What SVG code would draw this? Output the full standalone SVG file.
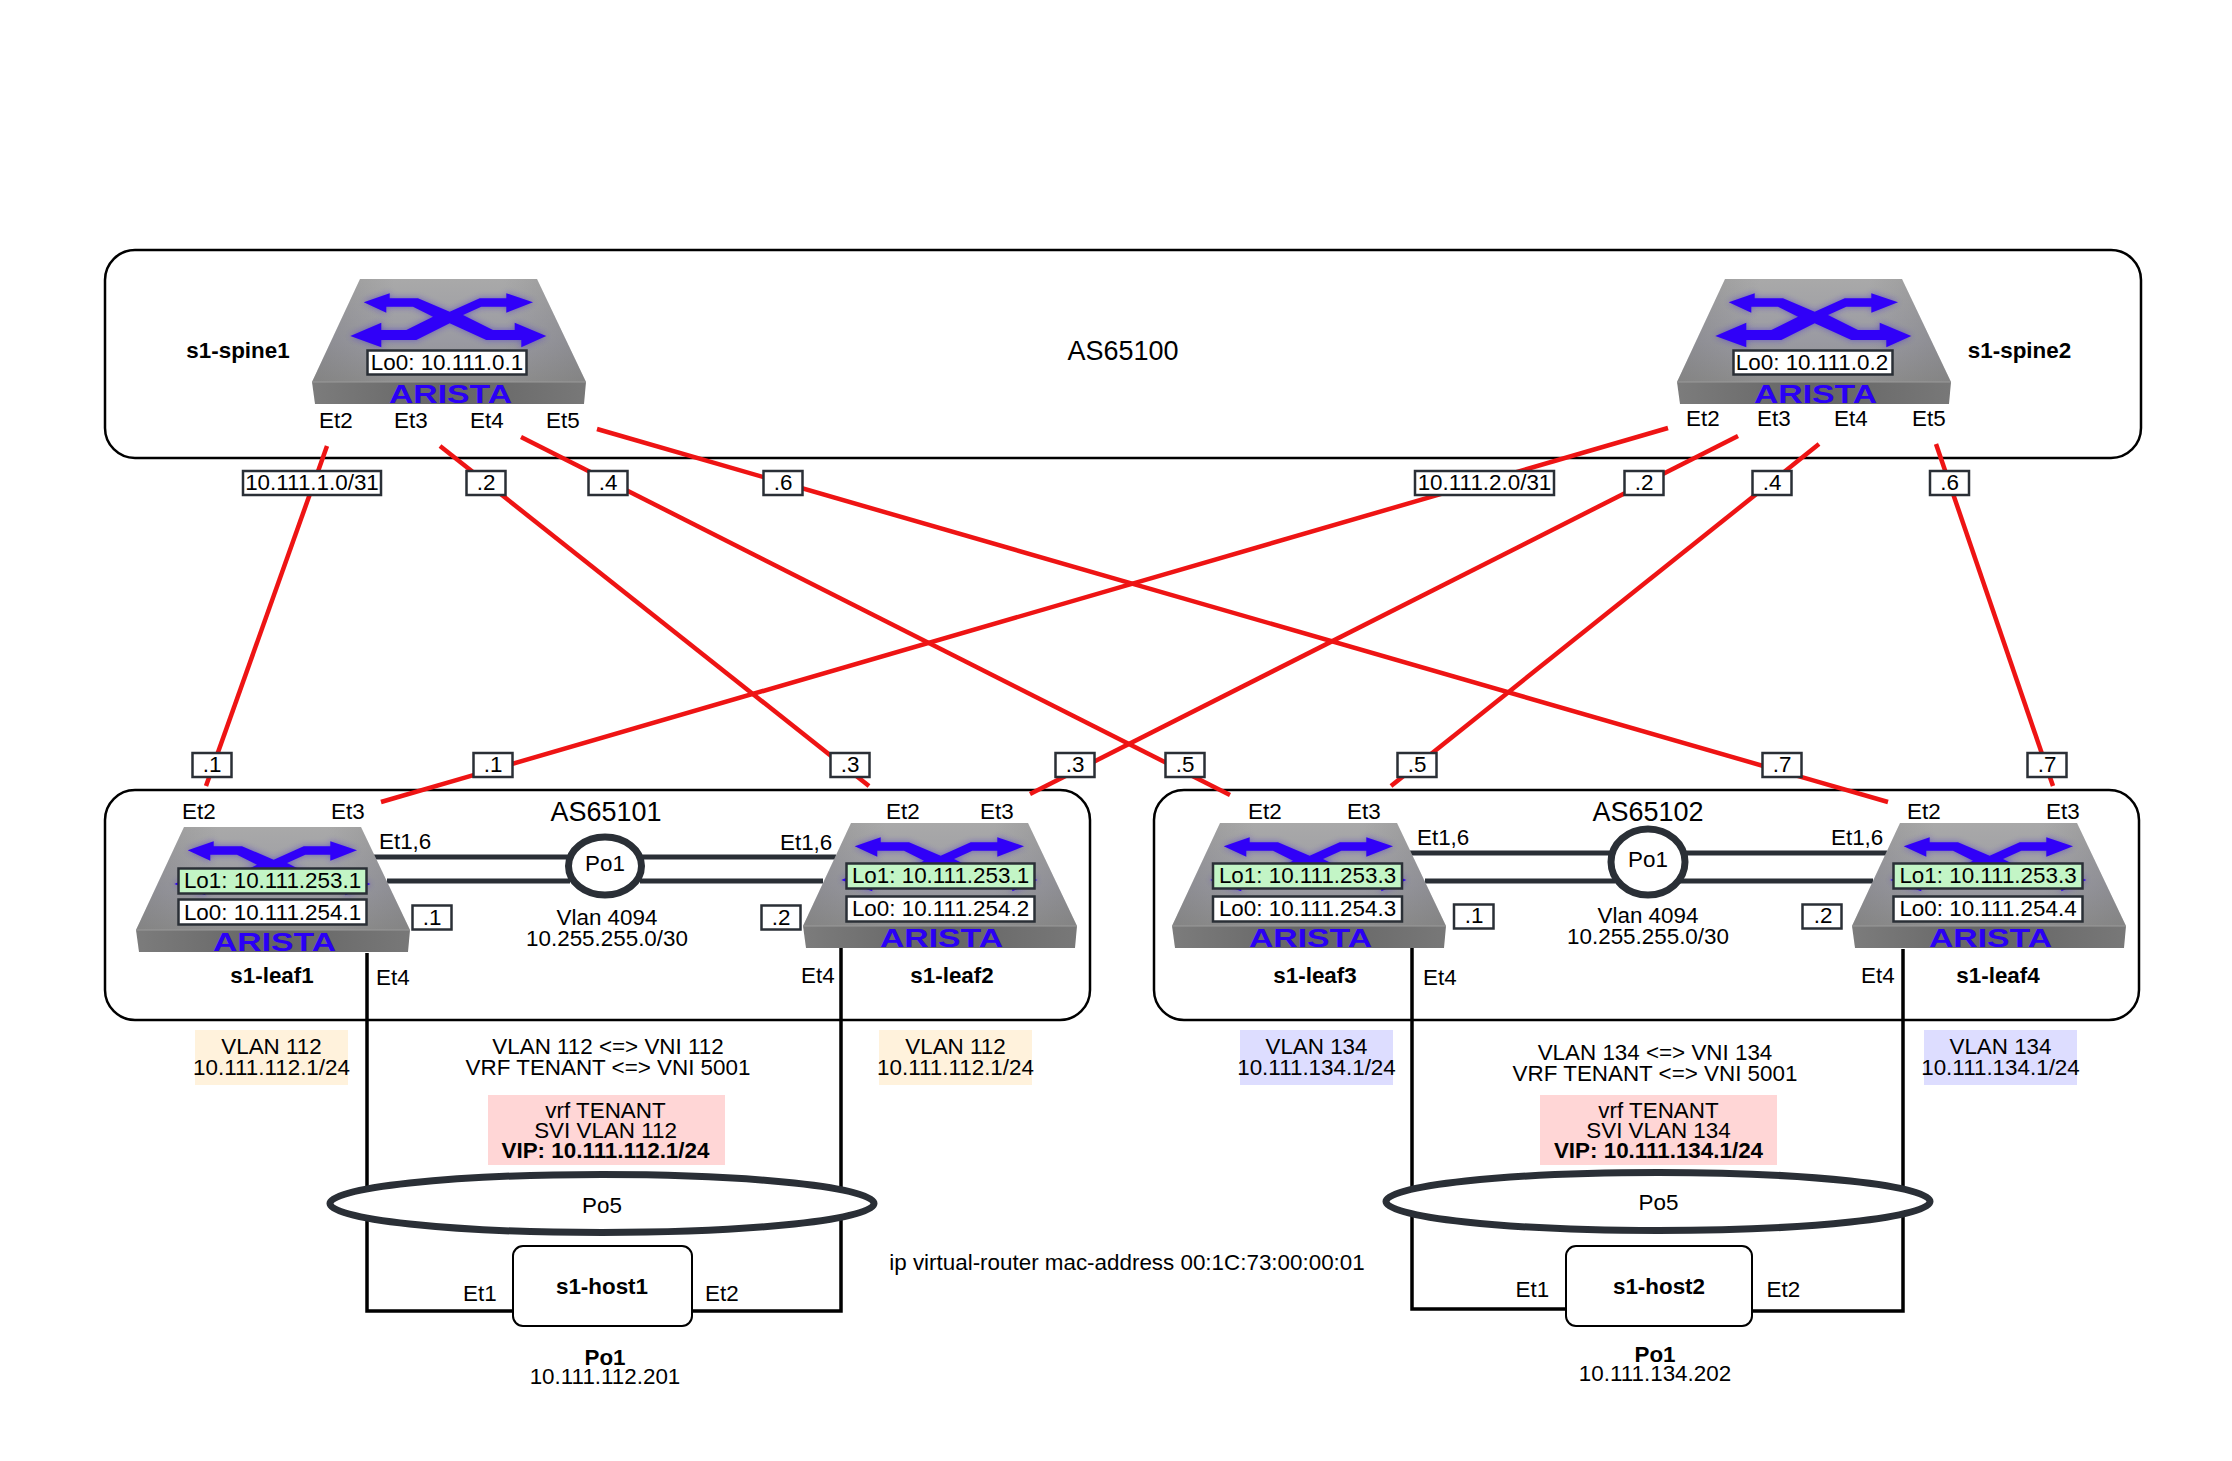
<svg xmlns="http://www.w3.org/2000/svg" width="2232" height="1461" viewBox="0 0 2232 1461">
<style>
text{font-family:"Liberation Sans",Arial,sans-serif;font-size:22.4px;fill:#000}
.m{text-anchor:middle}
.b{font-weight:bold}
.as{fill:none;stroke:#000;stroke-width:2.5}
.as-t{font-size:27px;text-anchor:middle}
.red{fill:none;stroke:#ee1414;stroke-width:4.5}
.blk{fill:none;stroke:#000;stroke-width:3.5}
.peer{fill:none;stroke:#2a2f36;stroke-width:5}
.po{fill:#fff;stroke:#2a2f36;stroke-width:7}
.box{fill:#fff;stroke:#2a2f36;stroke-width:2.5}
.lo1{fill:#c3f5c6;stroke:#2a2f36;stroke-width:2.5}
.host{fill:#fff;stroke:#000;stroke-width:2}
.logo{font-weight:bold;font-size:25px;fill:#2a00f5}
</style>
<defs>
<linearGradient id="top" x1="0" y1="0" x2="0" y2="1"><stop offset="0" stop-color="#a9a9a9"/><stop offset="0.6" stop-color="#9a9aa2"/><stop offset="1" stop-color="#8e8e8e"/></linearGradient>
<linearGradient id="side" x1="0" y1="0" x2="1" y2="0"><stop offset="0" stop-color="#707070" stop-opacity=".35"/><stop offset="0.3" stop-color="#707070" stop-opacity="0"/><stop offset="0.7" stop-color="#707070" stop-opacity="0"/><stop offset="1" stop-color="#707070" stop-opacity=".35"/></linearGradient>
<linearGradient id="front" x1="0" y1="0" x2="1" y2="0"><stop offset="0" stop-color="#7c7c7c"/><stop offset="0.5" stop-color="#646464"/><stop offset="1" stop-color="#787878"/></linearGradient>
<filter id="glow" x="-20%" y="-20%" width="140%" height="140%"><feGaussianBlur stdDeviation="3"/></filter>
<path id="arrows" d="M51.7 23.3L77.7 14.3V19.3H106L137.7 32.7L167.7 19.3H194.3V14.3L221 23.3L194.3 33.7V27.7H169.3L151 36L181 51H202.7V43.7L234.3 57L209.3 68.3V61H174.3L137.7 44.3L104.3 61H69.3V68.3L38.3 57L69.3 43.7V51H94.3L121 37.7L101 27.7H74.3V33.7Z"/>
<g id="sw">
<polygon points="48,0 225,0 274,103 0,103" fill="url(#top)"/>
<polygon points="48,0 225,0 274,103 0,103" fill="url(#side)"/>
<use href="#arrows" fill="#3a20d8" opacity=".55" filter="url(#glow)"/>
<use href="#arrows" fill="#3000f8"/>
<polygon points="0,103 274,103 272,125 3,125" fill="url(#front)"/>
<line x1="0" y1="103" x2="274" y2="103" stroke="#9a9a9a" stroke-width="1"/>
</g>
</defs>
<rect width="2232" height="1461" fill="#fff"/>

<g id="containers">
<rect class="as" x="105" y="250" width="2036" height="208" rx="30"/>
<rect class="as" x="105" y="790" width="985" height="230" rx="30"/>
<rect class="as" x="1154" y="790" width="985" height="230" rx="30"/>
<text class="as-t" x="1123" y="360">AS65100</text>
<text class="as-t" x="606" y="821">AS65101</text>
<text class="as-t" x="1648" y="821">AS65102</text>
</g>

<g id="connectors">
<path class="blk" d="M367 953V1311H513"/>
<path class="blk" d="M841 948V1311H692"/>
<path class="blk" d="M1412 948V1309H1566"/>
<path class="blk" d="M1903 949V1311H1752"/>
<path class="peer" d="M373 857H570M387 881H570M640 857H836M640 881H823"/>
<path class="peer" d="M1410 853H1615M1425 881H1615M1680 853H1887M1680 881H1873"/>
<line class="red" x1="327" y1="446" x2="206" y2="786"/>
<line class="red" x1="440" y1="446" x2="869" y2="786"/>
<line class="red" x1="521" y1="437" x2="1230" y2="795"/>
<line class="red" x1="597" y1="429" x2="1888" y2="802"/>
<line class="red" x1="1668" y1="428" x2="381" y2="802"/>
<line class="red" x1="1738" y1="436" x2="1030" y2="794"/>
<line class="red" x1="1819" y1="444" x2="1391" y2="786"/>
<line class="red" x1="1936" y1="444" x2="2053" y2="786"/>
</g>

<g id="po1-a"><ellipse class="po" cx="605" cy="866" rx="36.5" ry="29"/><text class="m" x="605" y="871">Po1</text></g>
<g id="po1-b"><ellipse class="po" cx="1648" cy="862" rx="37" ry="33"/><text class="m" x="1648" y="867">Po1</text></g>
<g id="po5-a"><ellipse class="po" cx="602" cy="1203.5" rx="272" ry="29"/><text class="m" x="602" y="1213">Po5</text></g>
<g id="po5-b"><ellipse class="po" cx="1658" cy="1201.5" rx="272" ry="29"/><text class="m" x="1658.5" y="1210">Po5</text></g>

<g id="s1-spine1">
<use href="#sw" x="312" y="279"/>
<text class="logo" x="389" y="403" textLength="123" lengthAdjust="spacingAndGlyphs">ARISTA</text>
<rect class="box" x="367.500" y="350.500" width="159" height="24"/>
<text class="m" x="447" y="370">Lo0: 10.111.0.1</text>
<text class="m b" x="238" y="358">s1-spine1</text>
<text x="319" y="428">Et2</text><text x="394" y="428">Et3</text><text x="470" y="428">Et4</text><text x="546" y="428">Et5</text>
</g>
<g id="s1-spine2">
<use href="#sw" x="1677" y="279"/>
<text class="logo" x="1754" y="403" textLength="123" lengthAdjust="spacingAndGlyphs">ARISTA</text>
<rect class="box" x="1733.500" y="350.500" width="159" height="24"/>
<text class="m" x="1812" y="370">Lo0: 10.111.0.2</text>
<text class="m b" x="2019.500" y="358">s1-spine2</text>
<text x="1686" y="426">Et2</text><text x="1757" y="426">Et3</text><text x="1834" y="426">Et4</text><text x="1912" y="426">Et5</text>
</g>
<g id="s1-leaf1">
<use href="#sw" x="136" y="827"/>
<text class="logo" x="213" y="951" textLength="123" lengthAdjust="spacingAndGlyphs">ARISTA</text>
<rect class="lo1" x="178.500" y="868.500" width="188" height="25"/>
<text class="m" x="272.500" y="888">Lo1: 10.111.253.1</text>
<rect class="box" x="178.500" y="899.500" width="188" height="25"/>
<text class="m" x="272.500" y="920">Lo0: 10.111.254.1</text>
<text class="m b" x="272" y="983">s1-leaf1</text>
<text x="182" y="819">Et2</text><text x="331" y="819">Et3</text><text x="379" y="849">Et1,6</text><text x="376" y="985">Et4</text>
</g>
<g id="s1-leaf2">
<use href="#sw" x="803" y="823"/>
<text class="logo" x="880" y="947" textLength="123" lengthAdjust="spacingAndGlyphs">ARISTA</text>
<rect class="lo1" x="846.500" y="863.500" width="188" height="25"/>
<text class="m" x="940.500" y="883">Lo1: 10.111.253.1</text>
<rect class="box" x="846.500" y="896.500" width="188" height="25"/>
<text class="m" x="940.500" y="916">Lo0: 10.111.254.2</text>
<text class="m b" x="952" y="983">s1-leaf2</text>
<text x="886" y="819">Et2</text><text x="980" y="819">Et3</text><text x="780" y="850">Et1,6</text><text x="801" y="983">Et4</text>
</g>
<g id="s1-leaf3">
<use href="#sw" x="1172" y="823"/>
<text class="logo" x="1249" y="947" textLength="123" lengthAdjust="spacingAndGlyphs">ARISTA</text>
<rect class="lo1" x="1213" y="863.500" width="189" height="25"/>
<text class="m" x="1307.500" y="883">Lo1: 10.111.253.3</text>
<rect class="box" x="1213" y="896.500" width="189" height="25"/>
<text class="m" x="1307.500" y="916">Lo0: 10.111.254.3</text>
<text class="m b" x="1315" y="983">s1-leaf3</text>
<text x="1248" y="819">Et2</text><text x="1347" y="819">Et3</text><text x="1417" y="845">Et1,6</text><text x="1423" y="985">Et4</text>
</g>
<g id="s1-leaf4">
<use href="#sw" x="1852" y="823"/>
<text class="logo" x="1929" y="947" textLength="123" lengthAdjust="spacingAndGlyphs">ARISTA</text>
<rect class="lo1" x="1893.500" y="863.500" width="189" height="25"/>
<text class="m" x="1988" y="883">Lo1: 10.111.253.3</text>
<rect class="box" x="1893.500" y="896.500" width="189" height="25"/>
<text class="m" x="1988" y="916">Lo0: 10.111.254.4</text>
<text class="m b" x="1998" y="983">s1-leaf4</text>
<text x="1907" y="819">Et2</text><text x="2046" y="819">Et3</text><text x="1831" y="845">Et1,6</text><text x="1861" y="983">Et4</text>
</g>

<g id="s1-host1">
<rect class="host" x="513" y="1246" width="179" height="80" rx="10"/>
<text class="m b" x="602" y="1294">s1-host1</text>
<text x="463" y="1301">Et1</text><text x="705" y="1301">Et2</text>
<text class="m b" x="605" y="1365">Po1</text>
<text class="m" x="605" y="1384">10.111.112.201</text>
</g>
<g id="s1-host2">
<rect class="host" x="1566" y="1246" width="186" height="80" rx="10"/>
<text class="m b" x="1659" y="1294">s1-host2</text>
<text x="1515.500" y="1297">Et1</text><text x="1766.500" y="1297">Et2</text>
<text class="m b" x="1655" y="1362">Po1</text>
<text class="m" x="1655" y="1381">10.111.134.202</text>
</g>

<g id="edge-labels">
<rect class="box" x="243" y="471" width="138" height="24"/><text class="m" x="312" y="490">10.111.1.0/31</text>
<rect class="box" x="466.500" y="471" width="39" height="24"/><text class="m" x="486" y="490">.2</text>
<rect class="box" x="588.500" y="471" width="39" height="24"/><text class="m" x="608" y="490">.4</text>
<rect class="box" x="763.500" y="471" width="39" height="24"/><text class="m" x="783" y="490">.6</text>
<rect class="box" x="1415" y="471" width="139" height="24"/><text class="m" x="1484.500" y="490">10.111.2.0/31</text>
<rect class="box" x="1624.500" y="471" width="39" height="24"/><text class="m" x="1644" y="490">.2</text>
<rect class="box" x="1752.500" y="471" width="39" height="24"/><text class="m" x="1772" y="490">.4</text>
<rect class="box" x="1930" y="471" width="39" height="24"/><text class="m" x="1949.500" y="490">.6</text>
<rect class="box" x="192.500" y="753" width="39" height="24"/><text class="m" x="212" y="772">.1</text>
<rect class="box" x="473.500" y="753" width="39" height="24"/><text class="m" x="493" y="772">.1</text>
<rect class="box" x="830.500" y="753" width="39" height="24"/><text class="m" x="850" y="772">.3</text>
<rect class="box" x="1055.500" y="753" width="39" height="24"/><text class="m" x="1075" y="772">.3</text>
<rect class="box" x="1165.500" y="753" width="39" height="24"/><text class="m" x="1185" y="772">.5</text>
<rect class="box" x="1397.500" y="753" width="39" height="24"/><text class="m" x="1417" y="772">.5</text>
<rect class="box" x="1762.500" y="753" width="39" height="24"/><text class="m" x="1782" y="772">.7</text>
<rect class="box" x="2027.500" y="753" width="39" height="24"/><text class="m" x="2047" y="772">.7</text>
<rect class="box" x="412.500" y="905.500" width="39" height="24"/><text class="m" x="432" y="925">.1</text>
<rect class="box" x="761.500" y="905.500" width="39" height="24"/><text class="m" x="781" y="925">.2</text>
<rect class="box" x="1454" y="904.500" width="39.500" height="24"/><text class="m" x="1474" y="923">.1</text>
<rect class="box" x="1802.500" y="904.500" width="39" height="24"/><text class="m" x="1823" y="923">.2</text>
</g>

<g id="notes">
<rect x="195" y="1030" width="153" height="55" fill="#fff2dc"/>
<text class="m" x="271.500" y="1054">VLAN 112</text><text class="m" x="271.500" y="1075">10.111.112.1/24</text>
<rect x="879" y="1030" width="153" height="55" fill="#fff2dc"/>
<text class="m" x="955.500" y="1054">VLAN 112</text><text class="m" x="955.500" y="1075">10.111.112.1/24</text>
<rect x="1240" y="1030" width="153" height="55" fill="#ddddff"/>
<text class="m" x="1316.500" y="1054">VLAN 134</text><text class="m" x="1316.500" y="1075">10.111.134.1/24</text>
<rect x="1924" y="1030" width="153" height="55" fill="#ddddff"/>
<text class="m" x="2000.500" y="1054">VLAN 134</text><text class="m" x="2000.500" y="1075">10.111.134.1/24</text>
<text class="m" x="607" y="925">Vlan 4094</text><text class="m" x="607" y="946">10.255.255.0/30</text>
<text class="m" x="1648" y="923">Vlan 4094</text><text class="m" x="1648" y="944">10.255.255.0/30</text>
<text class="m" x="608" y="1054">VLAN 112 &lt;=&gt; VNI 112</text><text class="m" x="608" y="1075">VRF TENANT &lt;=&gt; VNI 5001</text>
<text class="m" x="1655" y="1060">VLAN 134 &lt;=&gt; VNI 134</text><text class="m" x="1655" y="1081">VRF TENANT &lt;=&gt; VNI 5001</text>
<rect x="488" y="1095" width="237" height="70" fill="#ffd6d6"/>
<text class="m" x="605.500" y="1118">vrf TENANT</text><text class="m" x="605.500" y="1138">SVI VLAN 112</text><text class="m b" x="605.500" y="1158">VIP: 10.111.112.1/24</text>
<rect x="1540" y="1095" width="237" height="70" fill="#ffd6d6"/>
<text class="m" x="1658.500" y="1118">vrf TENANT</text><text class="m" x="1658.500" y="1138">SVI VLAN 134</text><text class="m b" x="1658.500" y="1158">VIP: 10.111.134.1/24</text>
<text class="m" x="1127" y="1270">ip virtual-router mac-address 00:1C:73:00:00:01</text>
</g>
</svg>
